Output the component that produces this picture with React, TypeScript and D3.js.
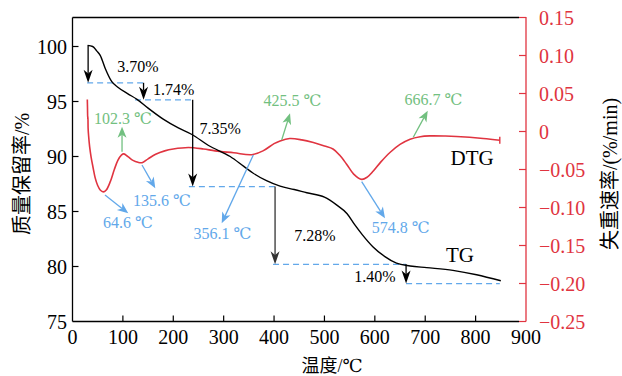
import React from 'react';
import * as d3 from 'd3';

// TG curve: temperature (℃) vs mass retention (%)
const tgTemp = [30, 40, 48, 55, 65, 78, 90, 110, 128, 150, 180, 210, 237, 270, 313, 340, 358, 385, 412, 440, 465, 500, 524, 545, 560, 575, 596, 620, 643, 670, 703, 755, 802, 850];
const tgValue = [100.1, 100.0, 99.6, 99.2, 98.0, 96.8, 96.3, 95.7, 95.2, 94.4, 93.4, 92.6, 92.0, 91.0, 90.0, 89.1, 88.5, 87.8, 87.3, 87.0, 86.7, 86.3, 85.6, 84.8, 83.8, 82.9, 81.8, 80.9, 80.3, 80.05, 79.9, 79.65, 79.25, 78.7];

// DTG curve: temperature (℃) vs weight loss rate (%/min)
const dtgTemp = [29.4, 29.8, 30.2, 30.6, 31, 32, 34, 37, 41, 45, 50, 55, 61, 67, 75, 83, 90, 97, 102, 110, 120, 130, 138, 150, 165, 183, 200, 230, 260, 283, 320, 356, 378, 400, 412, 431, 455, 478, 500, 517, 530, 544, 558, 574, 585, 597, 612, 630, 650, 670, 690, 709, 740, 762, 815, 848];
const dtgValue = [0.042, 0.03, 0.016, 0.02, 0.004, -0.006, -0.02, -0.034, -0.048, -0.061, -0.071, -0.077, -0.0795, -0.077, -0.066, -0.05, -0.038, -0.031, -0.0295, -0.033, -0.038, -0.0405, -0.041, -0.036, -0.03, -0.0255, -0.023, -0.021, -0.023, -0.0255, -0.028, -0.0305, -0.0255, -0.016, -0.0124, -0.0093, -0.011, -0.0145, -0.019, -0.023, -0.031, -0.043, -0.056, -0.063, -0.06, -0.052, -0.04, -0.0276, -0.017, -0.0101, -0.0068, -0.0058, -0.006, -0.0066, -0.0092, -0.0115];

const xTicks = [0, 100, 200, 300, 400, 500, 600, 700, 800, 900];
const leftTicks = [75, 80, 85, 90, 95, 100];
const rightTicks = [0.15, 0.1, 0.05, 0, -0.05, -0.1, -0.15, -0.2, -0.25];
const rightTickLabels = ['0.15', '0.10', '0.05', '0', '\u22120.05', '\u22120.10', '\u22120.15', '\u22120.20', '\u22120.25'];

// mass-loss steps (TG units)
const stepTemp = [31, 141, 238.5, 402, 662];
const stepFrom = [100.1, 96.7, 95.15, 87.27, 80.2];
const stepTo = [96.7, 95.15, 87.27, 80.2, 78.45];
const levelStart = [29, 124, 231, 398, 662];
const levelEnd = [141, 240, 402, 662, 848];
const stepLabels = ['3.70%', '1.74%', '7.35%', '7.28%', '1.40%'];
const stepLabelT = [130, 201, 293, 481, 600];
const stepLabelV = [98.23, 96.14, 92.59, 82.86, 79.07];

// DTG peaks (green) and valleys (blue), DTG units
const peakLabels = ['102.3 \u2103', '425.5 \u2103', '666.7 \u2103'];
const peakFromT = [98.3, 415.2, 676.3];
const peakFromV = [-0.0266, -0.0112, -0.0076];
const peakToT = [98.3, 431.7, 705];
const peakToV = [0.0063, 0.0239, 0.0274];
const peakLabelT = [100.2, 436.6, 716.4];
const peakLabelV = [0.0178, 0.0405, 0.0424];

const valleyLabels = ['64.6 \u2103', '135.6 \u2103', '356.1 \u2103', '574.8 \u2103'];
const valleyFromT = [64.5, 137.9, 358.8, 573.9];
const valleyFromV = [-0.0836, -0.0441, -0.0309, -0.066];
const valleyToT = [110.7, 164.3, 296.1, 620.2];
const valleyToV = [-0.1076, -0.0747, -0.1208, -0.1142];
const valleyLabelT = [110.1, 177.6, 297.7, 651.3];
const valleyLabelV = [-0.12, -0.0901, -0.134, -0.126];

const W = 622;
const H = 376;
const left = 72.5;
const top = 17.5;
const bottom = 321.5;
const frameRight = 519;
const axisRight = 526;

const RED = '#e03440';
const BLUE = '#62a8ea';
const GREEN = '#72c080';
const SERIF = '"Liberation Serif", "DejaVu Serif", serif';
const CJK = '"Noto Sans CJK SC", "Noto Sans", sans-serif';

const x = d3.scaleLinear().domain([0, 900]).range([left, axisRight]);
const yL = d3.scaleLinear().domain([75, 100]).range([bottom, 46.5]);
const yR = d3.scaleLinear().domain([-0.25, 0.15]).range([bottom, 17.5]);

function Arrow({ x1, y1, x2, y2, color, len, hw, width }: { x1: number; y1: number; x2: number; y2: number; color: string; len: number; hw: number; width: number }) {
  const dx = x2 - x1;
  const dy = y2 - y1;
  const d = Math.hypot(dx, dy);
  const ux = dx / d;
  const uy = dy / d;
  const bx = x2 - ux * len;
  const by = y2 - uy * len;
  const nx = x2 - ux * len * 0.72;
  const ny = y2 - uy * len * 0.72;
  const pts = [
    [x2, y2],
    [bx - uy * hw, by + ux * hw],
    [nx, ny],
    [bx + uy * hw, by - ux * hw],
  ].map(p => p.join(',')).join(' ');
  return (
    <g>
      <line x1={x1} y1={y1} x2={nx} y2={ny} stroke={color} strokeWidth={width} />
      <polygon points={pts} fill={color} />
    </g>
  );
}

export default function App() {
  const tgLine = d3.line<number>()
    .x((_, i) => x(tgTemp[i]))
    .y(d => yL(d))
    .curve(d3.curveMonotoneX);
  const dtgLine = d3.line<number>()
    .x((_, i) => x(dtgTemp[i]))
    .y(d => yR(d))
    .curve(d3.curveCatmullRom.alpha(0.5));

  const dtgEndX = x(dtgTemp[dtgTemp.length - 1]);
  const dtgEndY = yR(dtgValue[dtgValue.length - 1]);

  return (
    <svg width={W} height={H} style={{ position: 'absolute', left: 0, top: 0, background: '#fff' }}>
      {/* frame */}
      <line x1={left} y1={top} x2={frameRight} y2={top} stroke="#000" strokeWidth={1.3} />
      <line x1={left} y1={bottom} x2={frameRight} y2={bottom} stroke="#000" strokeWidth={1.3} />
      <line x1={left} y1={top} x2={left} y2={bottom} stroke="#000" strokeWidth={1.3} />
      <line x1={axisRight} y1={17} x2={axisRight} y2={bottom} stroke={RED} strokeWidth={1.3} />

      {/* x axis */}
      {xTicks.map(t => (
        <g key={'x' + t}>
          {t > 0 && t < 900 && <line x1={x(t)} x2={x(t)} y1={bottom} y2={bottom - 6} stroke="#000" strokeWidth={1.2} />}
          <text x={x(t)} y={344} textAnchor="middle" fontFamily={SERIF} fontSize={20} fill="#000">{t}</text>
        </g>
      ))}
      {/* left axis */}
      {leftTicks.map(t => (
        <g key={'l' + t}>
          {t > 75 && <line x1={left} x2={left + 6} y1={yL(t)} y2={yL(t)} stroke="#000" strokeWidth={1.2} />}
          <text x={67} y={yL(t)} dy="0.35em" textAnchor="end" fontFamily={SERIF} fontSize={20} fill="#000">{t}</text>
        </g>
      ))}
      {/* right axis */}
      {rightTicks.map((t, i) => (
        <g key={'r' + i}>
          <line x1={axisRight - 7} x2={axisRight} y1={yR(t)} y2={yR(t)} stroke={RED} strokeWidth={1.2} />
          <text x={539} y={yR(t)} dy="0.35em" textAnchor="start" fontFamily={SERIF} fontSize={20} fill={RED}>{rightTickLabels[i]}</text>
        </g>
      ))}

      {/* axis titles */}
      <text transform="translate(22,174) rotate(-90)" textAnchor="middle" dy="0.35em" fontSize={20} fill="#000">
        <tspan fontFamily={CJK}>质量保留率</tspan><tspan fontFamily={SERIF}>/%</tspan>
      </text>
      <text transform="translate(610,174) rotate(-90)" textAnchor="middle" dy="0.35em" fontSize={20} fill="#000">
        <tspan fontFamily={CJK}>失重速率</tspan><tspan fontFamily={SERIF}>/(%/min)</tspan>
      </text>
      <text x={332} y={372} textAnchor="middle" fontSize={18} fill="#000">
        <tspan fontFamily={CJK}>温度</tspan><tspan fontFamily={SERIF}>/℃</tspan>
      </text>

      {/* dashed levels */}
      {levelStart.map((s, i) => (
        <line key={'d' + i} x1={x(s)} x2={x(levelEnd[i])} y1={yL(stepTo[i])} y2={yL(stepTo[i])}
          stroke={BLUE} strokeWidth={1.3} strokeDasharray="6,4" />
      ))}

      {/* curves */}
      <path d={dtgLine(dtgValue) || ''} fill="none" stroke={RED} strokeWidth={1.6} />
      <line x1={dtgEndX} x2={dtgEndX} y1={dtgEndY - 3.5} y2={dtgEndY + 3.5} stroke={RED} strokeWidth={1.4} />
      <path d={tgLine(tgValue) || ''} fill="none" stroke="#000" strokeWidth={1.4} />

      {/* step arrows */}
      {stepTemp.map((t, i) => (
        <Arrow key={'s' + i} x1={x(t)} y1={yL(stepFrom[i])} x2={x(t)} y2={yL(stepTo[i])}
          color={i === 3 ? '#333' : '#000'} len={13} hw={4.5} width={1.3} />
      ))}
      {stepLabels.map((s, i) => (
        <text key={'sl' + i} x={x(stepLabelT[i])} y={yL(stepLabelV[i])} dy="0.35em" textAnchor="middle"
          fontFamily={SERIF} fontSize={16} fill="#000">{s}</text>
      ))}

      {/* peaks */}
      {peakLabels.map((s, i) => (
        <g key={'p' + i}>
          <Arrow x1={x(peakFromT[i])} y1={yR(peakFromV[i])} x2={x(peakToT[i])} y2={yR(peakToV[i])}
            color={GREEN} len={11} hw={4.5} width={1.3} />
          <text x={x(peakLabelT[i])} y={yR(peakLabelV[i])} dy="0.35em" textAnchor="middle"
            fontFamily={SERIF} fontSize={16} fill={GREEN}>{s}</text>
        </g>
      ))}
      {/* valleys */}
      {valleyLabels.map((s, i) => (
        <g key={'v' + i}>
          <Arrow x1={x(valleyFromT[i])} y1={yR(valleyFromV[i])} x2={x(valleyToT[i])} y2={yR(valleyToV[i])}
            color={BLUE} len={11} hw={4.5} width={1.3} />
          <text x={x(valleyLabelT[i])} y={yR(valleyLabelV[i])} dy="0.35em" textAnchor="middle"
            fontFamily={SERIF} fontSize={16} fill={BLUE}>{s}</text>
        </g>
      ))}

      {/* series names */}
      <text x={x(793)} y={yR(-0.0349)} dy="0.35em" textAnchor="middle" fontFamily={SERIF} fontSize={21} fill="#000">DTG</text>
      <text x={x(769)} y={yL(81.05)} dy="0.35em" textAnchor="middle" fontFamily={SERIF} fontSize={21} fill="#000">TG</text>
    </svg>
  );
}
